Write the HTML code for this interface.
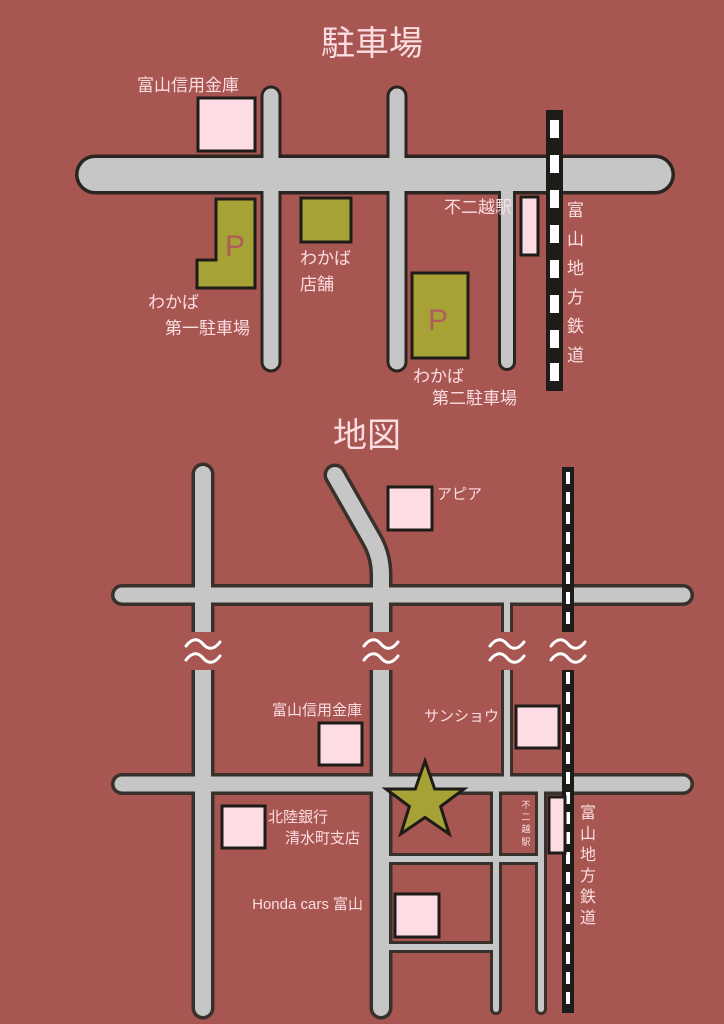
<!DOCTYPE html>
<html><head><meta charset="utf-8"><style>
html,body{margin:0;padding:0;background:#a85651;}
svg{display:block}
text{font-family:"Liberation Sans","Noto Sans CJK JP",sans-serif;fill:#fbdde2;}
</style></head><body>
<svg width="724" height="1024" viewBox="0 0 724 1024" xmlns="http://www.w3.org/2000/svg">
<defs>
<path id="wv" d="M-17,0 C-11,-8 -5,-8 0,-2 C5,4 11,4 17,-4 M-17,14 C-11,6 -5,6 0,12 C5,18 11,18 17,10" fill="none" stroke="#ffffff" stroke-width="3" stroke-linecap="round"/>
</defs>
<rect width="724" height="1024" fill="#a85651"/>
<text x="372" y="55" font-size="34" text-anchor="middle">駐車場</text>
<text x="367" y="447" font-size="34" text-anchor="middle">地図</text>

<g stroke="#2a2520" stroke-linecap="round" fill="none">
<line x1="95" y1="174.5" x2="655" y2="174.5" stroke-width="40"/>
<line x1="271" y1="96" x2="271" y2="362" stroke-width="21"/>
<line x1="397" y1="96" x2="397" y2="362" stroke-width="21"/>
<line x1="507" y1="180" x2="507" y2="362" stroke-width="18"/>
</g>
<g stroke="#c6c6c6" stroke-linecap="round" fill="none">
<line x1="95" y1="174.5" x2="655" y2="174.5" stroke-width="33"/>
<line x1="271" y1="96" x2="271" y2="362" stroke-width="15"/>
<line x1="397" y1="96" x2="397" y2="362" stroke-width="15"/>
<line x1="507" y1="180" x2="507" y2="362" stroke-width="12"/>
</g>
<g stroke="#1e1c18" stroke-width="3">
<rect x="198" y="98" width="57" height="53" fill="#fddde3"/>
<polygon points="216,199 255,199 255,288 197,288 197,260 216,260" fill="#a6a235"/>
<rect x="301" y="198" width="50" height="44" fill="#a6a235"/>
<rect x="412" y="273" width="56" height="85" fill="#a6a235"/>
<rect x="521" y="197" width="17" height="58" fill="#fddde3"/>
</g>
<text x="235" y="256" font-size="30" text-anchor="middle" style="fill:#b05c5a">P</text>
<text x="438" y="330" font-size="30" text-anchor="middle" style="fill:#b05c5a">P</text>
<rect x="546" y="110" width="17" height="281" fill="#1e1c18"/>
<g fill="#ffffff">
<rect x="550" y="120" width="9" height="18"/><rect x="550" y="155" width="9" height="18"/>
<rect x="550" y="190" width="9" height="18"/><rect x="550" y="225" width="9" height="18"/>
<rect x="550" y="260" width="9" height="18"/><rect x="550" y="295" width="9" height="18"/>
<rect x="550" y="330" width="9" height="18"/><rect x="550" y="363" width="9" height="18"/>
</g>
<g font-size="17">
<text x="188" y="91" text-anchor="middle">富山信用金庫</text>
<text x="300" y="264">わかば</text>
<text x="300" y="290">店舗</text>
<text x="148" y="308">わかば</text>
<text x="165" y="334">第一駐車場</text>
<text x="413" y="382">わかば</text>
<text x="432" y="404">第二駐車場</text>
<text x="444" y="213">不二越駅</text>
<text x="567" y="216">富</text><text x="567" y="245">山</text><text x="567" y="274">地</text>
<text x="567" y="303">方</text><text x="567" y="332">鉄</text><text x="567" y="361">道</text>
</g>

<g stroke="#38302a" stroke-linecap="round" stroke-linejoin="round" fill="none">
<line x1="203" y1="474" x2="203" y2="1008" stroke-width="23"/>
<path d="M335,475 L372,540 Q381,556 381,575 L381,1008" stroke-width="23"/>
<line x1="122" y1="595" x2="683" y2="595" stroke-width="22"/>
<line x1="122" y1="784" x2="683" y2="784" stroke-width="22"/>
<line x1="507" y1="595" x2="507" y2="784" stroke-width="12"/>
<line x1="496" y1="784" x2="496" y2="1009" stroke-width="12"/>
<line x1="541" y1="784" x2="541" y2="1009" stroke-width="12"/>
<line x1="381" y1="859" x2="541" y2="859" stroke-width="12"/>
<line x1="381" y1="947" x2="496" y2="947" stroke-width="12"/>
</g>
<g stroke="#c6c6c6" stroke-linecap="round" stroke-linejoin="round" fill="none">
<line x1="203" y1="474" x2="203" y2="1008" stroke-width="16"/>
<path d="M335,475 L372,540 Q381,556 381,575 L381,1008" stroke-width="16"/>
<line x1="122" y1="595" x2="683" y2="595" stroke-width="15"/>
<line x1="122" y1="784" x2="683" y2="784" stroke-width="15"/>
<line x1="507" y1="595" x2="507" y2="784" stroke-width="6"/>
<line x1="496" y1="784" x2="496" y2="1009" stroke-width="6"/>
<line x1="541" y1="784" x2="541" y2="1009" stroke-width="6"/>
<line x1="381" y1="859" x2="541" y2="859" stroke-width="6"/>
<line x1="381" y1="947" x2="496" y2="947" stroke-width="6"/>
</g>
<rect x="562" y="467" width="12" height="546" fill="#1e1c18"/>
<line x1="568" y1="472" x2="568" y2="1010" stroke="#ffffff" stroke-width="4" stroke-dasharray="12,8"/>
<rect x="100" y="632" width="600" height="38" fill="#a85651"/>
<use href="#wv" x="203" y="646"/>
<use href="#wv" x="381" y="646"/>
<use href="#wv" x="507" y="646"/>
<use href="#wv" x="568" y="646"/>
<g stroke="#1e1c18" stroke-width="3" fill="#fddde3">
<rect x="388" y="487" width="44" height="43"/>
<rect x="319" y="723" width="43" height="42"/>
<rect x="516" y="706" width="43" height="42"/>
<rect x="222" y="806" width="43" height="42"/>
<rect x="395" y="894" width="44" height="43"/>
<rect x="549" y="797" width="16" height="56"/>
</g>
<polygon points="425,761 434.7,789 464,789 440.6,806.5 449.2,834 425,817.5 400.8,834 409.4,806.5 386,789 415.3,789" fill="#a6a235" stroke="#1e1c18" stroke-width="3"/>
<g font-size="15">
<text x="437" y="499">アピア</text>
<text x="362" y="715" text-anchor="end">富山信用金庫</text>
<text x="499" y="721" text-anchor="end">サンショウ</text>
<text x="268" y="822">北陸銀行</text>
<text x="285" y="843">清水町支店</text>
<text x="363" y="909" text-anchor="end">Honda cars 富山</text>
<text x="580" y="818" font-size="16">富</text><text x="580" y="839" font-size="16">山</text>
<text x="580" y="860" font-size="16">地</text><text x="580" y="881" font-size="16">方</text>
<text x="580" y="902" font-size="16">鉄</text><text x="580" y="923" font-size="16">道</text>
</g>
<g font-size="9" text-anchor="middle">
<text x="526" y="808">不</text><text x="526" y="820">二</text>
<text x="526" y="832">越</text><text x="526" y="845">駅</text>
</g>
</svg>
</body></html>
